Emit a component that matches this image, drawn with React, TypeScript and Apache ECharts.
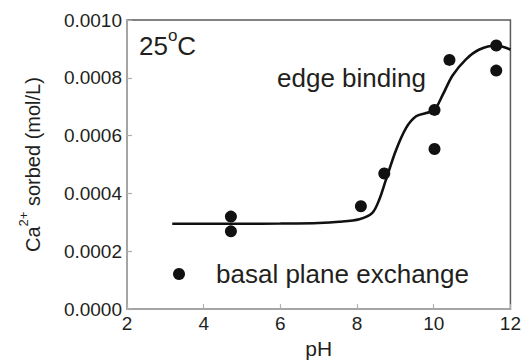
import React, { useEffect, useRef } from "react";
import * as echarts from "echarts";

const measuredPH = [4.71, 4.71, 8.1, 8.71, 10.02, 10.02, 10.41, 11.63, 11.63];
const measuredCa = [0.00032, 0.000269, 0.000356, 0.000469, 0.000689, 0.000554, 0.000862, 0.000912, 0.000825];

const modelPH = [3.18, 4, 5, 6, 7, 7.53, 8.06, 8.4, 8.58, 8.75, 9.01, 9.28, 9.54, 9.8, 10.02, 10.23, 10.49, 10.84, 11.19, 11.63, 12.0];
const modelCa = [0.000295, 0.000295, 0.000295, 0.000296, 0.000298, 0.000302, 0.000311, 0.000333, 0.000379, 0.000446, 0.000548, 0.000627, 0.000667, 0.000678, 0.000689, 0.00074, 0.000808, 0.000864, 0.000898, 0.000912, 0.000898];

const xTicks = [2, 4, 6, 8, 10, 12];
const yTicks = [0, 0.0002, 0.0004, 0.0006, 0.0008, 0.001];

const FONT = "'Liberation Sans', Arial, Helvetica, sans-serif";
const TEXT = "#231f20";

export default function App() {
  const ref = useRef<HTMLDivElement>(null);
  useEffect(() => {
    document.body.style.margin = "0";
    document.body.style.overflow = "hidden";
    if (!ref.current) return;
    const chart = echarts.init(ref.current, undefined, { renderer: "svg" });
    chart.setOption({
      animation: false,
      backgroundColor: "#ffffff",
      textStyle: { fontFamily: FONT },
      grid: {
        left: 127,
        right: 12,
        top: 20,
        bottom: 50,
        show: true,
        borderColor: "#5a5a5a",
        borderWidth: 1.5,
        backgroundColor: "transparent",
      },
      legend: {
        left: 168,
        top: 256,
        itemWidth: 12,
        itemHeight: 12,
        icon: "circle",
        data: ["basal plane exchange"],
        textStyle: { fontFamily: FONT, fontSize: 26, color: TEXT, padding: [0, 0, 0, 26] },
      },
      xAxis: {
        type: "value",
        min: xTicks[0],
        max: xTicks[xTicks.length - 1],
        interval: 2,
        name: "pH",
        nameLocation: "middle",
        nameGap: 26,
        nameTextStyle: { fontFamily: FONT, fontSize: 21, color: TEXT },
        axisLine: { show: true, lineStyle: { color: "#b0b0b0", width: 1.5 } },
        axisTick: { show: true, inside: true, length: 5, lineStyle: { color: "#b0b0b0", width: 1.2 } },
        axisLabel: { fontFamily: FONT, fontSize: 19, color: TEXT, margin: 5 },
        splitLine: { show: false },
      },
      yAxis: {
        type: "value",
        min: yTicks[0],
        max: yTicks[yTicks.length - 1],
        interval: 0.0002,
        name: "{n|Ca}{s|2+}{n| sorbed (mol/L)}",
        nameLocation: "middle",
        nameGap: 84,
        nameTextStyle: {
          fontFamily: FONT,
          fontSize: 20,
          color: TEXT,
          rich: {
            n: { fontFamily: FONT, fontSize: 20, color: TEXT, lineHeight: 26, verticalAlign: "bottom" },
            s: { fontFamily: FONT, fontSize: 13, color: TEXT, lineHeight: 26, verticalAlign: "top" },
          },
        },
        axisLine: { show: true, lineStyle: { color: "#b0b0b0", width: 1.5 } },
        axisTick: { show: true, inside: true, length: 5, lineStyle: { color: "#b0b0b0", width: 1.2 } },
        axisLabel: {
          fontFamily: FONT,
          fontSize: 19,
          color: TEXT,
          margin: 5,
          formatter: (v: number) => v.toFixed(4),
        },
        splitLine: { show: false },
      },
      graphic: [
        {
          type: "text",
          left: 139,
          top: 27,
          style: {
            text: "{a|25}{s|o}{a|C}",
            rich: {
              a: { fontFamily: FONT, fontSize: 26, fill: TEXT, lineHeight: 32, verticalAlign: "bottom" },
              s: { fontFamily: FONT, fontSize: 17, fill: TEXT, lineHeight: 32, verticalAlign: "top" },
            },
          },
        },
        {
          type: "text",
          left: 277,
          top: 65,
          style: { text: "edge binding", fontFamily: FONT, fontSize: 26, fill: TEXT },
        },
      ],
      series: [
        {
          name: "model",
          type: "line",
          data: modelPH.map((x, i) => [x, modelCa[i]]),
          smooth: 0.3,
          showSymbol: false,
          lineStyle: { color: "#111111", width: 2.6 },
          z: 2,
        },
        {
          name: "basal plane exchange",
          type: "scatter",
          data: measuredPH.map((x, i) => [x, measuredCa[i]]),
          symbol: "circle",
          symbolSize: 12,
          itemStyle: { color: "#111111", opacity: 1 },
          z: 3,
        },
      ],
    });
    return () => chart.dispose();
  }, []);
  return <div ref={ref} style={{ width: 524, height: 364 }} />;
}
